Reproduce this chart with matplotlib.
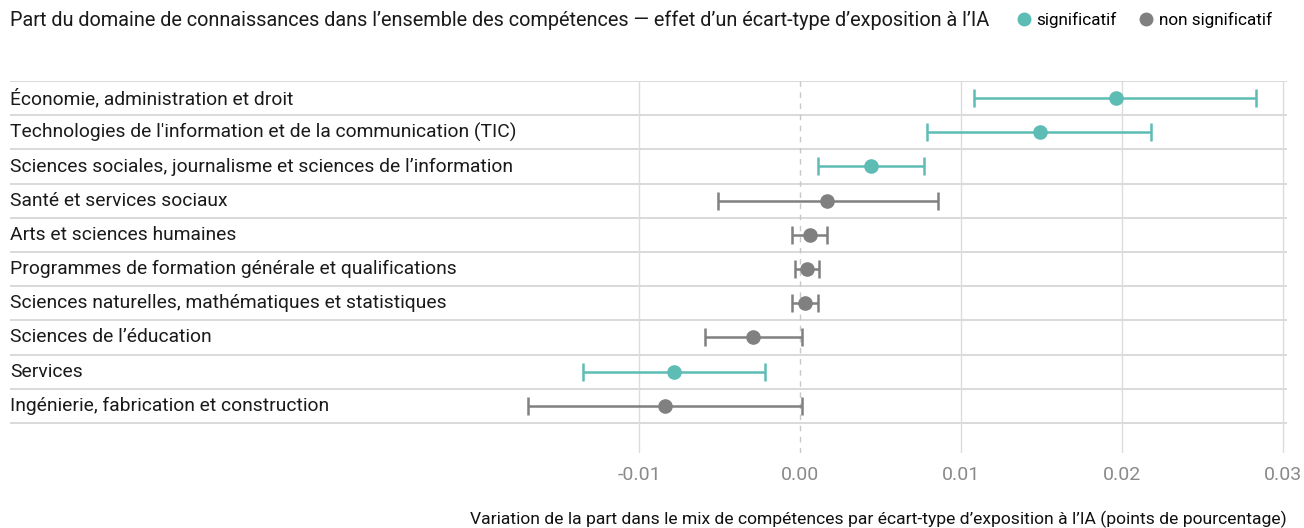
import matplotlib.pyplot as plt
from matplotlib.lines import Line2D
import numpy as np

plt.rcParams['font.family'] = ['Roboto', 'DejaVu Sans']

domaines = [
    "Économie, administration et droit",
    "Technologies de l'information et de la communication (TIC)",
    "Sciences sociales, journalisme et sciences de l’information",
    "Santé et services sociaux",
    "Arts et sciences humaines",
    "Programmes de formation générale et qualifications",
    "Sciences naturelles, mathématiques et statistiques",
    "Sciences de l’éducation",
    "Services",
    "Ingénierie, fabrication et construction",
]
effet = [0.0196, 0.0149, 0.0044, 0.0017, 0.0006, 0.00045, 0.0003, -0.0029, -0.0078, -0.0084]
ic_bas = [0.0108, 0.0079, 0.0011, -0.0051, -0.0005, -0.0003, -0.0005, -0.0059, -0.0135, -0.0169]
ic_haut = [0.0283, 0.0218, 0.0077, 0.0086, 0.0017, 0.0012, 0.0011, 0.0001, -0.0022, 0.0001]
significatif = [True, True, True, False, False, False, False, False, True, False]
xticks = [-0.01, 0.0, 0.01, 0.02, 0.03]
xtick_labels = ['-0.01', '0.00', '0.01', '0.02', '0.03']

teal = '#5dbcb4'
gris = '#808080'

W, H = 1304, 528
fig = plt.figure(figsize=(W / 100, H / 100), dpi=100)
ax = fig.add_axes([10 / W, 1 - 453 / H, 1277 / W, 372 / H])

ax.set_xlim(-0.04907, 0.03025)
ax.set_ylim(10.38, -0.5)

# lignes de séparation des lignes
for i in range(len(domaines) + 1):
    ax.axhline(i - 0.5, color='#d9d9d9', lw=1.4, zorder=1)
# grille verticale
for t in xticks:
    if t == 0:
        ax.axvline(t, color='#c8c8c8', lw=1, ls=(0, (4, 4)), zorder=1)
    else:
        ax.axvline(t, color='#dcdcdc', lw=1, zorder=1)

y = np.arange(len(domaines))
for i in range(len(domaines)):
    c = teal if significatif[i] else gris
    ax.errorbar(effet[i], y[i],
                xerr=[[effet[i] - ic_bas[i]], [ic_haut[i] - effet[i]]],
                fmt='o', color=c, ms=9.5, elinewidth=1.8, capsize=6.5,
                capthick=1.8, zorder=3)
    ax.text(0, y[i], domaines[i], transform=ax.get_yaxis_transform(),
            ha='left', va='center', fontsize=13.9, color='#1a1a1a')

ax.set_xticks(xticks)
ax.set_xticklabels(xtick_labels)
ax.set_yticks([])
ax.tick_params(axis='x', length=0, pad=9, labelsize=14, labelcolor='#8a8a8a')
for s in ax.spines.values():
    s.set_visible(False)

fig.text(10 / W, 1 - 20 / H,
         "Part du domaine de connaissances dans l’ensemble des compétences — effet d’un écart-type d’exposition à l’IA",
         ha='left', va='center', fontsize=14.3, color='#1a1a1a')

handles = [Line2D([], [], marker='o', ls='', color=teal, ms=9, label='significatif'),
           Line2D([], [], marker='o', ls='', color=gris, ms=9, label='non significatif')]
fig.legend(handles=handles, loc='center right', bbox_to_anchor=(1272 / W, 1 - 20 / H),
           ncol=2, frameon=False, fontsize=12.3, handletextpad=0.15, columnspacing=1.1,
           handlelength=1.2, borderaxespad=0, borderpad=0)

fig.text(1287 / W, 1 - 519 / H,
         "Variation de la part dans le mix de compétences par écart-type d’exposition à l’IA (points de pourcentage)",
         ha='right', va='center', fontsize=12.6, color='#111111')

fig.savefig('out.png', dpi=100)
